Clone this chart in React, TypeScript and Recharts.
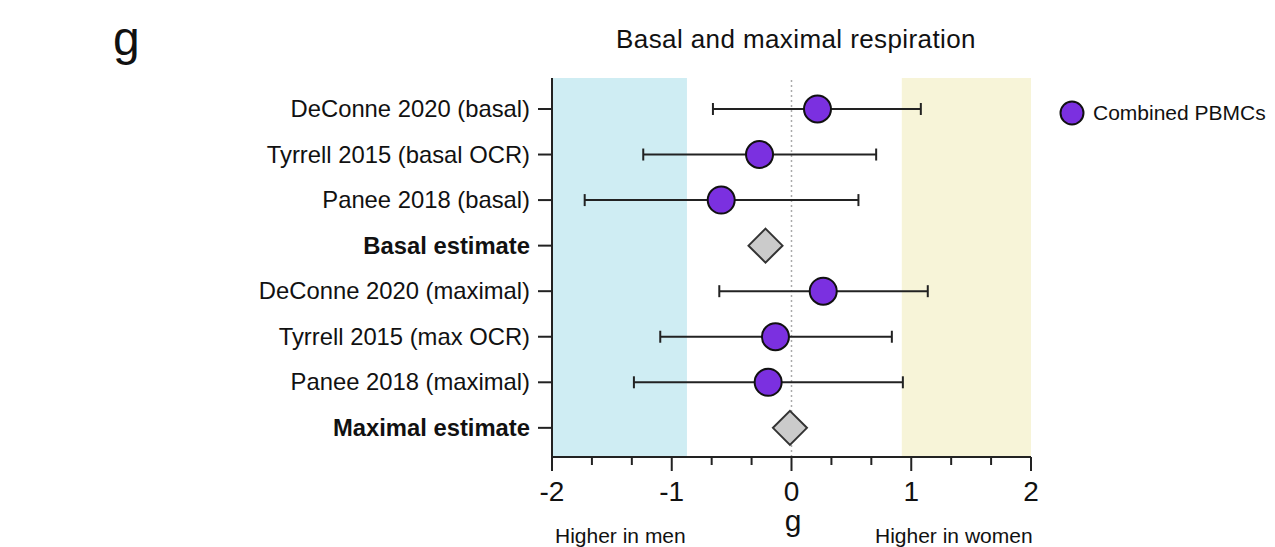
import { ScatterChart, Scatter, XAxis, YAxis, ErrorBar, ReferenceArea, ReferenceLine } from 'recharts';

const rowLabels = [
  'DeConne 2020 (basal)',
  'Tyrrell 2015 (basal OCR)',
  'Panee 2018 (basal)',
  'Basal estimate',
  'DeConne 2020 (maximal)',
  'Tyrrell 2015 (max OCR)',
  'Panee 2018 (maximal)',
  'Maximal estimate',
];
const boldRows = [3, 7];

const studyRow = [0, 1, 2, 4, 5, 6];
const studyG = [0.217, -0.267, -0.587, 0.265, -0.134, -0.195];
const studyLo = [-0.656, -1.238, -1.727, -0.603, -1.096, -1.316];
const studyHi = [1.08, 0.707, 0.559, 1.138, 0.838, 0.93];

const pooledRow = [3, 7];
const pooledG = [-0.217, -0.013];

const menZone = [-2, -0.873];
const womenZone = [0.921, 2];

const xTicks = [-2, -5 / 3, -4 / 3, -1, -2 / 3, -1 / 3, 0, 1 / 3, 2 / 3, 1, 4 / 3, 5 / 3, 2];
const yTicks = [0, 1, 2, 3, 4, 5, 6, 7];

const FONT = '"Liberation Sans", Arial, Helvetica, sans-serif';
const PURPLE = '#7b30e0';

const studies = studyRow.map((row, i) => ({
  row,
  g: studyG[i],
  err: [studyG[i] - studyLo[i], studyHi[i] - studyG[i]],
}));
const pooled = pooledRow.map((row, i) => ({ row, g: pooledG[i] }));

function Dot(props: any) {
  const { cx, cy } = props;
  return <circle cx={cx} cy={cy} r={13.5} fill={PURPLE} stroke="#111" strokeWidth={2} />;
}

function Diamond(props: any) {
  const { cx, cy } = props;
  const s = 17;
  return (
    <polygon
      points={`${cx},${cy - s} ${cx + s},${cy} ${cx},${cy + s} ${cx - s},${cy}`}
      fill="#cbcbcb"
      stroke="#333"
      strokeWidth={2}
    />
  );
}

function XTick(props: any) {
  const { x, y, payload } = props;
  const v = payload.value;
  const major = Math.abs(v - Math.round(v)) < 0.01;
  return (
    <g>
      <line x1={x} x2={x} y1={y} y2={y + (major ? 14 : 8)} stroke="#222" strokeWidth={2} />
      {major && (
        <text x={x} y={y + 44} textAnchor="middle" fontSize={28} fontFamily={FONT} fill="#111">
          {String(Math.round(v))}
        </text>
      )}
    </g>
  );
}

function YTick(props: any) {
  const { x, y, payload } = props;
  const i = payload.value;
  const bold = boldRows.includes(i);
  return (
    <g>
      <line x1={x - 14} x2={x} y1={y} y2={y} stroke="#222" strokeWidth={2} />
      <text
        x={x - 22}
        y={y + 8}
        textAnchor="end"
        fontSize={23.8}
        fontWeight={bold ? 'bold' : 'normal'}
        fontFamily={FONT}
        fill="#111"
      >
        {rowLabels[i]}
      </text>
    </g>
  );
}

export default function App() {
  return (
    <div style={{ position: 'absolute', left: 0, top: 0, width: 1275, height: 547, background: '#fff' }}>
      <ScatterChart width={1275} height={547} margin={{ top: 78, right: 244, left: 252, bottom: 30 }}>
        <ReferenceArea x1={menZone[0]} x2={menZone[1]} fill="#cfedf3" fillOpacity={1} stroke="none" />
        <ReferenceArea x1={womenZone[0]} x2={womenZone[1]} fill="#f7f4d8" fillOpacity={1} stroke="none" />
        <ReferenceLine x={0} stroke="#aaa" strokeWidth={1.5} strokeDasharray="2 3" />
        <XAxis
          type="number"
          dataKey="g"
          domain={[-2, 2]}
          ticks={xTicks}
          interval={0}
          height={60}
          tickSize={0}
          tickMargin={0}
          tickLine={false}
          axisLine={{ stroke: '#222', strokeWidth: 2 }}
          tick={<XTick />}
          allowDataOverflow
        />
        <YAxis
          type="number"
          dataKey="row"
          domain={[-0.68, 7.64]}
          reversed
          ticks={yTicks}
          interval={0}
          width={300}
          tickSize={0}
          tickMargin={0}
          tickLine={false}
          axisLine={{ stroke: '#222', strokeWidth: 2 }}
          tick={<YTick />}
          allowDataOverflow
        />
        <Scatter data={studies} shape={<Dot />} isAnimationActive={false}>
          <ErrorBar dataKey="err" direction="x" width={6} stroke="#222" strokeWidth={2} />
        </Scatter>
        <Scatter data={pooled} shape={<Diamond />} isAnimationActive={false} />
      </ScatterChart>
      <svg
        width={1275}
        height={547}
        style={{ position: 'absolute', left: 0, top: 0, pointerEvents: 'none' }}
        fontFamily={FONT}
      >
        <text x={113} y={55} fontSize={48} fill="#111">g</text>
        <text x={796} y={48} fontSize={26} letterSpacing={0.4} textAnchor="middle" fill="#111">
          Basal and maximal respiration
        </text>
        <circle cx={1072} cy={113} r={11.5} fill={PURPLE} stroke="#111" strokeWidth={2} />
        <text x={1093} y={120} fontSize={21} fill="#111">Combined PBMCs</text>
        <text x={793} y={531} fontSize={30} textAnchor="middle" fill="#111">g</text>
        <text x={555} y={543} fontSize={21} fill="#111">Higher in men</text>
        <text x={875} y={543} fontSize={21} fill="#111">Higher in women</text>
      </svg>
    </div>
  );
}
